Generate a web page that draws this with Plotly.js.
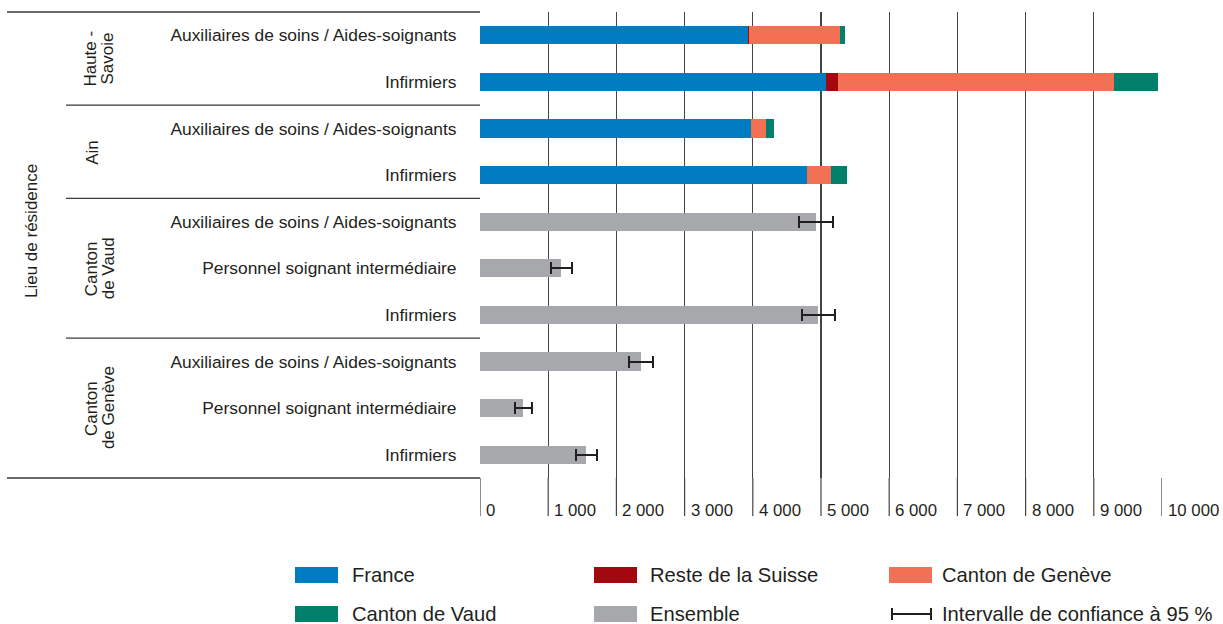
<!DOCTYPE html>
<html>
<head>
<meta charset="utf-8">
<script src="https://cdn.plot.ly/plotly-3.0.1.min.js"></script>
<style>html,body{margin:0;padding:0;background:#fff;}#chart{width:1223px;height:624px;}</style>
</head>
<body>
<div id="chart"></div>
<script>
// ---- data (rows top to bottom) ----
const groupLines = [['Haute -', 'Savoie'], ['Ain'], ['Canton', 'de Vaud'], ['Canton', 'de Genève']];
const rowGroup = [0, 0, 1, 1, 2, 2, 2, 3, 3, 3];
const jobs = [
  'Auxiliaires de soins / Aides-soignants', 'Infirmiers',
  'Auxiliaires de soins / Aides-soignants', 'Infirmiers',
  'Auxiliaires de soins / Aides-soignants', 'Personnel soignant intermédiaire', 'Infirmiers',
  'Auxiliaires de soins / Aides-soignants', 'Personnel soignant intermédiaire', 'Infirmiers'
];
const france   = [3925, 5069, 3974, 4800, null, null, null, null, null, null];
const resteCH  = [20, 176, 0, 0, null, null, null, null, null, null];
const geneve   = [1334, 4056, 215, 342, null, null, null, null, null, null];
const vaud     = [73, 636, 127, 239, null, null, null, null, null, null];
const ensemble = [null, null, null, null, 4927, 1190, 4960, 2358, 635, 1560];
const ci95     = [null, null, null, null, 254, 152, 245, 173, 127, 152];
const xTickVals = [0, 1000, 2000, 3000, 4000, 5000, 6000, 7000, 8000, 9000, 10000];
const xTickText = ['0', '1 000', '2 000', '3 000', '4 000', '5 000', '6 000', '7 000', '8 000', '9 000', '10 000'];
const seriesNames = ['France', 'Reste de la Suisse', 'Canton de Genève', 'Canton de Vaud', 'Ensemble'];
const seriesColors = ['#007cc3', '#a3080f', '#f27054', '#00806a', '#a7a8ab'];
const ciLabel = 'Intervalle de confiance à 95 %';
const yTitle = 'Lieu de résidence';

// ---- layout geometry ----
const W = 1223, H = 624;
const M = {l: 480, r: 61, t: 12, b: 146};
const PW = W - M.l - M.r, PH = H - M.t - M.b;
const px2x = p => (p - M.l) / PW;
const py2y = p => (H - M.b - p) / PH;
const FONT = 'Arial, "Liberation Sans", Helvetica, sans-serif';
const TXT = '#231f20';
const LINE = '#3a3a3a';
const GRID = '#444444';

const rows = jobs.map((_, i) => i);
const stackVals = [france, resteCH, geneve, vaud];
const traces = stackVals.map((vals, k) => ({
  type: 'bar', orientation: 'h', name: seriesNames[k],
  y: rows, x: vals, width: 0.39,
  marker: {color: seriesColors[k], line: {width: 0}},
  hoverinfo: 'x+name'
}));
traces.push({
  type: 'bar', orientation: 'h', name: seriesNames[4],
  y: rows, x: ensemble, width: 0.39,
  marker: {color: seriesColors[4], line: {width: 0}},
  error_x: {type: 'data', array: ci95, symmetric: true, color: TXT, thickness: 2, width: 6}
});

const shapes = [];
const annotations = [];
const leftEdge = px2x(7);
// top and bottom frame lines
shapes.push({type: 'line', xref: 'paper', yref: 'paper', x0: leftEdge, x1: 0, y0: 1, y1: 1, line: {color: LINE, width: 1.3}});
shapes.push({type: 'line', xref: 'paper', yref: 'paper', x0: leftEdge, x1: 0, y0: 0, y1: 0, line: {color: LINE, width: 1.3}});
// x tick extensions below the plot and their labels (placed right of each tick)
xTickVals.forEach((v, i) => {
  shapes.push({type: 'line', xref: 'x', yref: 'paper', x0: v, x1: v, y0: py2y(516), y1: 0, line: {color: GRID, width: 1.2}});
  annotations.push({xref: 'x', yref: 'paper', x: v, y: py2y(510), xshift: 5, text: xTickText[i], showarrow: false,
    xanchor: 'left', yanchor: 'middle', borderpad: 0, font: {family: FONT, size: 16.8, color: TXT}});
});
// group separators & labels
const groupIdx = groupLines.map((_, g) => rows.filter(i => rowGroup[i] === g));
groupIdx.forEach((idx, g) => {
  const last = idx[idx.length - 1];
  if (g < groupLines.length - 1) {
    shapes.push({type: 'line', xref: 'paper', yref: 'y', x0: px2x(66), x1: 0, y0: last + 0.5, y1: last + 0.5, line: {color: LINE, width: 1.3}});
  }
  const yc = (idx[0] + last) / 2;
  const lines = groupLines[g];
  const xs = lines.length === 2 ? [91, 108] : [93];
  lines.forEach((t, j) => {
    annotations.push({xref: 'paper', yref: 'y', x: px2x(xs[j]), y: yc, text: t, textangle: -90, showarrow: false,
      xanchor: 'center', yanchor: 'middle', font: {family: FONT, size: 17, color: TXT}});
  });
});
annotations.push({xref: 'paper', yref: 'paper', x: px2x(32), y: py2y(231), text: yTitle, textangle: -90, showarrow: false,
  xanchor: 'center', yanchor: 'middle', font: {family: FONT, size: 17, color: TXT}});

// manual legend
const legItems = [
  {col: 0, row: 0, k: 0}, {col: 1, row: 0, k: 1}, {col: 2, row: 0, k: 2},
  {col: 0, row: 1, k: 3}, {col: 1, row: 1, k: 4}
];
const colSw = [295, 594, 889], colTx = [351, 649, 941], rowY = [575, 614];
const LEGFONT = {family: FONT, size: 20.2, color: TXT};
legItems.forEach(it => {
  const yc = rowY[it.row];
  shapes.push({type: 'rect', xref: 'paper', yref: 'paper', x0: px2x(colSw[it.col]), x1: px2x(colSw[it.col] + 43),
    y0: py2y(yc - 8), y1: py2y(yc + 8), fillcolor: seriesColors[it.k], line: {width: 0}});
  annotations.push({xref: 'paper', yref: 'paper', x: px2x(colTx[it.col]), y: py2y(yc), text: seriesNames[it.k], showarrow: false,
    xanchor: 'left', yanchor: 'middle', borderpad: 0, font: LEGFONT});
});
// CI legend symbol
const ciY = rowY[1];
shapes.push({type: 'line', xref: 'paper', yref: 'paper', x0: px2x(892), x1: px2x(931), y0: py2y(ciY), y1: py2y(ciY), line: {color: TXT, width: 2}});
shapes.push({type: 'line', xref: 'paper', yref: 'paper', x0: px2x(892), x1: px2x(892), y0: py2y(ciY - 6), y1: py2y(ciY + 6), line: {color: TXT, width: 2}});
shapes.push({type: 'line', xref: 'paper', yref: 'paper', x0: px2x(931), x1: px2x(931), y0: py2y(ciY - 6), y1: py2y(ciY + 6), line: {color: TXT, width: 2}});
annotations.push({xref: 'paper', yref: 'paper', x: px2x(941), y: py2y(ciY), text: ciLabel, showarrow: false,
  xanchor: 'left', yanchor: 'middle', borderpad: 0, font: LEGFONT});

const layout = {
  width: W, height: H, margin: M,
  paper_bgcolor: '#fff', plot_bgcolor: '#fff',
  barmode: 'stack', showlegend: false, bargap: 0,
  font: {family: FONT, color: TXT},
  xaxis: {
    range: [0, 10000], tickvals: xTickVals,
    showgrid: true, gridcolor: GRID, gridwidth: 1.2, zeroline: false, showline: false,
    ticks: '', showticklabels: false, fixedrange: true
  },
  yaxis: {
    range: [9.5, -0.5], tickvals: rows, ticktext: jobs,
    showgrid: false, zeroline: false, showline: false,
    ticks: 'outside', ticklen: 19, tickcolor: 'rgba(0,0,0,0)',
    tickfont: {family: FONT, size: 17.4, color: TXT}, fixedrange: true
  },
  shapes: shapes, annotations: annotations
};
Plotly.newPlot('chart', traces, layout, {displayModeBar: false, staticPlot: true});
</script>
</body>
</html>
